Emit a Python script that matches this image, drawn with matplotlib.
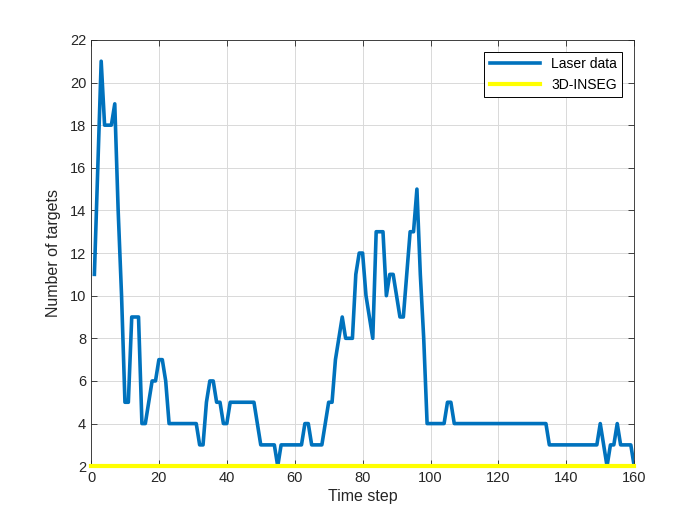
import matplotlib
matplotlib.use('Agg')
import matplotlib.pyplot as plt

# time steps 1..160
time_step = list(range(1, 161))

# number of targets (laser data)
laser_targets = [
    11, 16, 21, 18, 18, 18, 19, 14, 10, 5,          # 1-10
    5, 9, 9, 9, 4, 4, 5, 6, 6, 7,                   # 11-20
    7, 6, 4, 4, 4, 4, 4, 4, 4, 4,                   # 21-30
    4, 3, 3, 5, 6, 6, 5, 5, 4, 4,                   # 31-40
    5, 5, 5, 5, 5, 5, 5, 5, 4, 3,                   # 41-50
    3, 3, 3, 3, 2, 3, 3, 3, 3, 3,                   # 51-60
    3, 3, 4, 4, 3, 3, 3, 3, 4, 5,                   # 61-70
    5, 7, 8, 9, 8, 8, 8, 11, 12, 12,                # 71-80
    10, 9, 8, 13, 13, 13, 10, 11, 11, 10,           # 81-90
    9, 9, 11, 13, 13, 15, 11, 8, 4, 4,              # 91-100
    4, 4, 4, 4, 5, 5, 4, 4, 4, 4,                   # 101-110
    4, 4, 4, 4, 4, 4, 4, 4, 4, 4,                   # 111-120
    4, 4, 4, 4, 4, 4, 4, 4, 4, 4,                   # 121-130
    4, 4, 4, 4, 3, 3, 3, 3, 3, 3,                   # 131-140
    3, 3, 3, 3, 3, 3, 3, 3, 3, 4,                   # 141-150
    3, 2, 3, 3, 4, 3, 3, 3, 3, 2,                   # 151-160
]

# 3D-INSEG series: flat line
inseg_time = [0, 160]
inseg_targets = [2, 2]

x_ticks = list(range(0, 161, 20))
y_ticks = list(range(2, 23, 2))

plt.rcParams['font.family'] = ['Liberation Sans', 'DejaVu Sans']
axis_color = (0.15, 0.15, 0.15)

fig = plt.figure(figsize=(7, 5.25), dpi=100)
ax = fig.add_axes([0.13, 0.112, 0.776, 0.812])

ax.plot(time_step, laser_targets, color='#0072BD', linewidth=2.6,
        solid_joinstyle='round', label='Laser data', zorder=3)
ax.plot(inseg_time, inseg_targets, color='#FFFF00', linewidth=3.0,
        label='3D-INSEG', zorder=4, clip_on=False)

ax.set_xlim(0, 160)
ax.set_ylim(2, 22)
ax.set_xticks(x_ticks)
ax.set_yticks(y_ticks)
ax.grid(True, color=(0.85, 0.85, 0.85), linewidth=0.7)
ax.set_axisbelow(True)

ax.tick_params(direction='in', length=4, width=0.6, colors=axis_color,
               labelsize=10.5, top=True, right=True, labeltop=False, labelright=False)
for sp in ax.spines.values():
    sp.set_color(axis_color)
    sp.set_linewidth(0.6)

ax.set_xlabel('Time step', fontsize=11.5, color=axis_color, labelpad=3)
ax.set_ylabel('Number of targets', fontsize=11.5, color=axis_color, labelpad=6)

leg = ax.legend(loc='upper right', fontsize=10, handlelength=3.6,
                fancybox=False, framealpha=1, edgecolor='black',
                borderaxespad=0.85, borderpad=0.4, labelspacing=0.45)
leg.get_frame().set_linewidth(0.7)

fig.savefig('out.png', dpi=100)
plt.close(fig)
